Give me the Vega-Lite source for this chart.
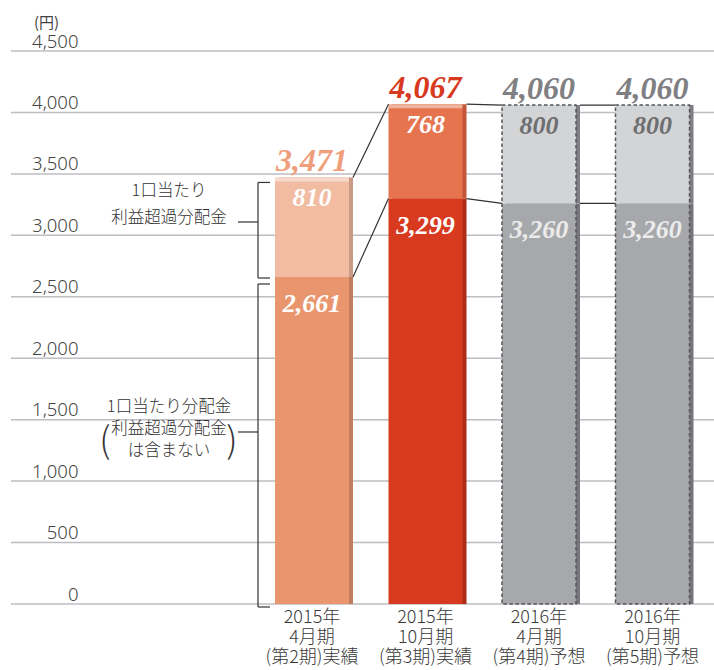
{
  "$schema": "https://vega.github.io/schema/vega-lite/v6.json",
  "width": 703,
  "height": 553,
  "autosize": "none",
  "padding": {"left": 11, "top": 51, "right": 0, "bottom": 66},
  "config": {"view": {"stroke": null}, "font": "Noto Sans CJK JP"},
  "datasets": {
    "bars": [
      {"期": "2015年\n4月期\n(第2期)実績", "分配金": 2661, "利益超過分配金": 810, "合計": 3471, "区分": "実績"},
      {"期": "2015年\n10月期\n(第3期)実績", "分配金": 3299, "利益超過分配金": 768, "合計": 4067, "区分": "実績"},
      {"期": "2016年\n4月期\n(第4期)予想", "分配金": 3260, "利益超過分配金": 800, "合計": 4060, "区分": "予想"},
      {"期": "2016年\n10月期\n(第5期)予想", "分配金": 3260, "利益超過分配金": 800, "合計": 4060, "区分": "予想"}
    ],
    "links": [
      {"from": "2015年\n4月期\n(第2期)実績", "to": "2015年\n10月期\n(第3期)実績", "y_from": 3471, "y_to": 4067},
      {"from": "2015年\n4月期\n(第2期)実績", "to": "2015年\n10月期\n(第3期)実績", "y_from": 2661, "y_to": 3299},
      {"from": "2015年\n10月期\n(第3期)実績", "to": "2016年\n4月期\n(第4期)予想", "y_from": 4067, "y_to": 4060},
      {"from": "2015年\n10月期\n(第3期)実績", "to": "2016年\n4月期\n(第4期)予想", "y_from": 3299, "y_to": 3260},
      {"from": "2016年\n4月期\n(第4期)予想", "to": "2016年\n10月期\n(第5期)予想", "y_from": 4060, "y_to": 4060},
      {"from": "2016年\n4月期\n(第4期)予想", "to": "2016年\n10月期\n(第5期)予想", "y_from": 3260, "y_to": 3260}
    ],
    "grid": [
      {"目盛": 0}, {"目盛": 500}, {"目盛": 1000}, {"目盛": 1500}, {"目盛": 2000},
      {"目盛": 2500}, {"目盛": 3000}, {"目盛": 3500}, {"目盛": 4000}, {"目盛": 4500}
    ]
  },
  "data": {"name": "bars"},
  "encoding": {
    "x": {
      "field": "期",
      "type": "nominal",
      "sort": null,
      "scale": {
        "domain": ["2015年\n4月期\n(第2期)実績", "2015年\n10月期\n(第3期)実績", "2016年\n4月期\n(第4期)予想", "2016年\n10月期\n(第5期)予想"],
        "range": [264, 678.5],
        "paddingInner": 0.348,
        "paddingOuter": 0,
        "align": 0.5
      },
      "axis": {
        "title": null,
        "domain": false,
        "ticks": false,
        "grid": false,
        "labelAngle": 0,
        "labelPadding": 4,
        "labelExpr": "split(datum.label, '\\n')",
        "labelLineHeight": 20,
        "labelFontSize": 18,
        "labelFontWeight": 300,
        "labelColor": "#3a3a3a",
        "labelBaseline": "top",
        "labelFont": "Noto Sans CJK JP",
        "labelLimit": 300
      }
    }
  },
  "layer": [
    {
      "data": {"name": "grid"},
      "mark": {"type": "rule", "color": "#BDBDC3", "strokeWidth": 1.5},
      "encoding": {
        "x": null,
        "y": {
          "field": "目盛",
          "type": "quantitative",
          "scale": {"domain": [0, 4500], "nice": false},
          "axis": {
            "title": "(円)",
            "titleAngle": 0,
            "titleX": 35,
            "titleY": -29,
            "titleAlign": "center",
            "titleBaseline": "middle",
            "titleFont": "Noto Sans CJK JP",
            "titleFontSize": 15,
            "titleFontWeight": "normal",
            "titleColor": "#444444",
            "values": [0, 500, 1000, 1500, 2000, 2500, 3000, 3500, 4000, 4500],
            "format": ",d",
            "grid": false,
            "labelAlign": "right",
            "labelPadding": -67,
            "ticks": false,
            "tickSize": 0,
            "domain": false,
            "labelBaseline": "alphabetic",
            "labelOffset": -4,
            "labelFont": "Noto Sans",
            "labelFontWeight": 300,
            "labelFontSize": 18.5,
            "labelColor": "#444444"
          }
        }
      }
    },
    {
      "mark": {"type": "bar", "xOffset": 4},
      "encoding": {
        "y": {"field": "分配金", "type": "quantitative"},
        "color": {"field": "期", "type": "nominal", "sort": null, "legend": null, "scale": {"range": ["#C27C5E", "#AE2C17", "#75767A", "#75767A"]}}
      }
    },
    {
      "mark": {"type": "bar", "xOffset": 4},
      "encoding": {
        "y": {"field": "分配金", "type": "quantitative"},
        "y2": {"field": "合計"},
        "color": {"field": "期", "type": "nominal", "sort": null, "legend": null, "scale": {"range": ["#C99B86", "#C2553A", "#7E7F83", "#7E7F83"]}}
      }
    },
    {
      "mark": {"type": "bar"},
      "encoding": {
        "y": {"field": "分配金", "type": "quantitative"},
        "color": {"field": "期", "type": "nominal", "sort": null, "legend": null, "scale": {"range": ["#E9966F", "#D83A1F", "#A7A8AB", "#A7A8AB"]}}
      }
    },
    {
      "mark": {"type": "bar"},
      "encoding": {
        "y": {"field": "分配金", "type": "quantitative"},
        "y2": {"field": "合計"},
        "color": {"field": "期", "type": "nominal", "sort": null, "legend": null, "scale": {"range": ["#F2BCA2", "#E5744F", "#D3D4D6", "#D3D4D6"]}}
      }
    },
    {
      "transform": [{"filter": "datum['区分'] === '実績'"}],
      "mark": {"type": "bar", "color": "#ffffff", "opacity": 0.45, "y2Offset": 4, "x2Offset": 4},
      "encoding": {
        "y": {"field": "合計", "type": "quantitative"},
        "y2": {"field": "合計"}
      }
    },
    {
      "transform": [{"filter": "datum['区分'] === '予想'"}],
      "mark": {"type": "bar", "fillOpacity": 0, "stroke": "#55565A", "strokeWidth": 1.5, "strokeDash": [3.5, 2.5]},
      "encoding": {
        "y": {"field": "合計", "type": "quantitative"}
      }
    },
    {
      "data": {"name": "links"},
      "mark": {"type": "rule", "color": "#333333", "strokeWidth": 1.2, "xOffset": 4},
      "encoding": {
        "x": {"field": "from", "type": "nominal", "bandPosition": 1},
        "x2": {"field": "to", "bandPosition": 0},
        "y": {"field": "y_from", "type": "quantitative"},
        "y2": {"field": "y_to"}
      }
    },
    {
      "mark": {"type": "text", "font": "Liberation Serif", "fontStyle": "italic", "fontWeight": "bold", "fontSize": 32, "baseline": "alphabetic", "dy": -6},
      "encoding": {
        "y": {"field": "合計", "type": "quantitative"},
        "text": {"field": "合計", "type": "quantitative", "format": ","},
        "color": {"field": "期", "type": "nominal", "sort": null, "legend": null, "scale": {"range": ["#EF9E7C", "#D83A1F", "#808083", "#808083"]}}
      }
    },
    {
      "mark": {"type": "text", "font": "Liberation Serif", "fontStyle": "italic", "fontWeight": "bold", "fontSize": 26, "baseline": "middle", "dy": 21},
      "encoding": {
        "y": {"field": "合計", "type": "quantitative"},
        "text": {"field": "利益超過分配金", "type": "quantitative", "format": ","},
        "color": {"condition": {"test": "datum['区分'] === '予想'", "value": "#6E6E71"}, "value": "#ffffff"}
      }
    },
    {
      "mark": {"type": "text", "font": "Liberation Serif", "fontStyle": "italic", "fontWeight": "bold", "fontSize": 26, "baseline": "middle", "dy": 27},
      "encoding": {
        "y": {"field": "分配金", "type": "quantitative"},
        "text": {"field": "分配金", "type": "quantitative", "format": ","},
        "color": {"condition": {"test": "datum['区分'] === '予想'", "value": "#ECECEC"}, "value": "#ffffff"}
      }
    },
    {
      "transform": [{"filter": "datum['期'] === '2015年\\n4月期\\n(第2期)実績'"}],
      "layer": [
        {
          "mark": {"type": "rule", "color": "#333333", "strokeWidth": 1.2, "xOffset": -17, "yOffset": 5, "y2Offset": 1},
          "encoding": {
            "x": {"field": "期", "type": "nominal", "bandPosition": 0},
            "y": {"field": "合計", "type": "quantitative"},
            "y2": {"field": "分配金"}
          }
        },
        {
          "mark": {"type": "rule", "color": "#333333", "strokeWidth": 1.2, "xOffset": -17, "x2Offset": -5, "yOffset": 5},
          "encoding": {
            "x": {"field": "期", "type": "nominal", "bandPosition": 0},
            "x2": {"field": "期", "bandPosition": 0},
            "y": {"field": "合計", "type": "quantitative"}
          }
        },
        {
          "mark": {"type": "rule", "color": "#333333", "strokeWidth": 1.2, "xOffset": -17, "x2Offset": -5, "yOffset": 1},
          "encoding": {
            "x": {"field": "期", "type": "nominal", "bandPosition": 0},
            "x2": {"field": "期", "bandPosition": 0},
            "y": {"field": "分配金", "type": "quantitative"}
          }
        },
        {
          "mark": {"type": "rule", "color": "#333333", "strokeWidth": 1.2, "xOffset": -37, "x2Offset": -17, "yOffset": -55},
          "encoding": {
            "x": {"field": "期", "type": "nominal", "bandPosition": 0},
            "x2": {"field": "期", "bandPosition": 0},
            "y": {"field": "分配金", "type": "quantitative"}
          }
        },
        {
          "mark": {"type": "rule", "color": "#333333", "strokeWidth": 1.2, "xOffset": -17, "yOffset": 7, "y2Offset": 3},
          "encoding": {
            "x": {"field": "期", "type": "nominal", "bandPosition": 0},
            "y": {"field": "分配金", "type": "quantitative"},
            "y2": {"datum": 0}
          }
        },
        {
          "mark": {"type": "rule", "color": "#333333", "strokeWidth": 1.2, "xOffset": -17, "x2Offset": -5, "yOffset": 7},
          "encoding": {
            "x": {"field": "期", "type": "nominal", "bandPosition": 0},
            "x2": {"field": "期", "bandPosition": 0},
            "y": {"field": "分配金", "type": "quantitative"}
          }
        },
        {
          "mark": {"type": "rule", "color": "#333333", "strokeWidth": 1.2, "xOffset": -17, "x2Offset": -5, "yOffset": 3},
          "encoding": {
            "x": {"field": "期", "type": "nominal", "bandPosition": 0},
            "x2": {"field": "期", "bandPosition": 0},
            "y": {"datum": 0, "type": "quantitative"}
          }
        },
        {
          "mark": {"type": "rule", "color": "#333333", "strokeWidth": 1.2, "xOffset": -37, "x2Offset": -17, "yOffset": 155},
          "encoding": {
            "x": {"field": "期", "type": "nominal", "bandPosition": 0},
            "x2": {"field": "期", "bandPosition": 0},
            "y": {"field": "分配金", "type": "quantitative"}
          }
        },
        {
          "mark": {"type": "text", "text": ["1口当たり", "利益超過分配金"], "font": "Noto Sans CJK JP", "fontWeight": 300, "fontSize": 16.5, "lineHeight": 27, "color": "#333333", "align": "center", "baseline": "top", "dx": -106, "dy": 6},
          "encoding": {
            "x": {"field": "期", "type": "nominal", "bandPosition": 0},
            "y": {"field": "合計", "type": "quantitative"}
          }
        },
        {
          "mark": {"type": "text", "text": ["1口当たり分配金", "利益超過分配金", "は含まない"], "font": "Noto Sans CJK JP", "fontWeight": 300, "fontSize": 16.5, "lineHeight": 22, "color": "#333333", "align": "center", "baseline": "top", "dx": -106, "dy": 122},
          "encoding": {
            "x": {"field": "期", "type": "nominal", "bandPosition": 0},
            "y": {"field": "分配金", "type": "quantitative"}
          }
        },
        {
          "mark": {"type": "text", "text": "(", "font": "Noto Sans CJK JP", "fontWeight": 300, "fontSize": 36, "color": "#333333", "align": "center", "baseline": "middle", "dx": -170, "dy": 165},
          "encoding": {
            "x": {"field": "期", "type": "nominal", "bandPosition": 0},
            "y": {"field": "分配金", "type": "quantitative"}
          }
        },
        {
          "mark": {"type": "text", "text": ")", "font": "Noto Sans CJK JP", "fontWeight": 300, "fontSize": 36, "color": "#333333", "align": "center", "baseline": "middle", "dx": -43, "dy": 165},
          "encoding": {
            "x": {"field": "期", "type": "nominal", "bandPosition": 0},
            "y": {"field": "分配金", "type": "quantitative"}
          }
        }
      ]
    }
  ],
  "resolve": {"scale": {"color": "independent"}}
}
